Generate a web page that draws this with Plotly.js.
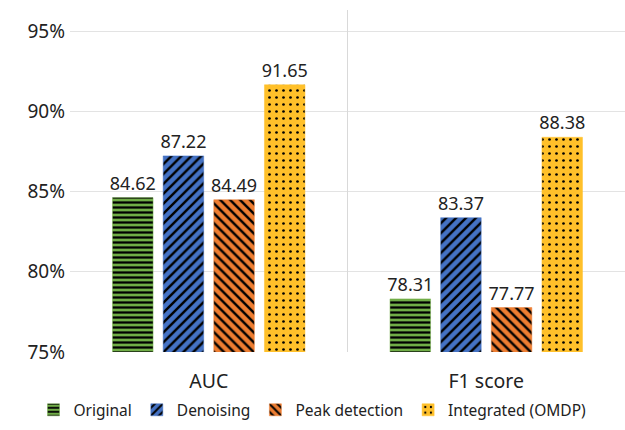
<!DOCTYPE html>
<html>
<head>
<meta charset="utf-8">
<script src="https://cdn.plot.ly/plotly-3.0.1.min.js"></script>
<style>
  html, body { margin: 0; padding: 0; background: #fff; }
  #chart { width: 625px; height: 430px; }
</style>
</head>
<body>
<div id="chart"></div>
<script>
// Metrics compared across preprocessing variants
const metrics = ['AUC', 'F1 score'];
const original = [84.62, 78.31];
const denoising = [87.22, 83.37];
const peakDetection = [84.49, 77.77];
const integrated = [91.65, 88.38];

const seriesNames = ['Original', 'Denoising', 'Peak detection', 'Integrated (OMDP)'];
const seriesValues = [original, denoising, peakDetection, integrated];
const fills = ['#70AD47', '#4472C4', '#ED7D31', '#FFC02A'];
const patterns = ['-', '/', '\\', '.'];
const patternSizes = [5, 7, 7, 7];
const patternSolidity = [0.45, 0.35, 0.35, 0.12];

const traces = seriesNames.map((name, i) => ({
  type: 'bar',
  name: name,
  x: metrics,
  y: seriesValues[i],
  text: seriesValues[i].map(v => v.toFixed(2)),
  textposition: 'outside',
  constraintext: 'none',
  cliponaxis: false,
  textfont: { size: 18, color: '#222' },
  marker: {
    color: fills[i],
    line: { color: fills[i], width: 0.5 },
    pattern: {
      shape: patterns[i],
      fgcolor: '#000',
      bgcolor: fills[i],
      fillmode: 'replace',
      size: patternSizes[i],
      solidity: patternSolidity[i]
    }
  }
}));

const layout = {
  width: 625,
  height: 430,
  margin: { l: 70, r: 0, t: 10, b: 78 },
  paper_bgcolor: '#fff',
  plot_bgcolor: '#fff',
  font: { family: 'Noto Sans, Open Sans, sans-serif', size: 18, color: '#222' },
  barmode: 'group',
  bargap: 0.27,
  bargroupgap: 0.2,
  showlegend: true,
  legend: {
    orientation: 'h',
    xref: 'container',
    yref: 'container',
    x: 0.5,
    xanchor: 'center',
    y: 0.046,
    yanchor: 'middle',
    font: { size: 15.5, color: '#222' },
    itemwidth: 30,
    tracegroupgap: 0
  },
  xaxis: {
    showgrid: false,
    showline: false,
    ticks: '',
    ticklabelstandoff: 15,
    tickfont: { size: 19.5, color: '#222' }
  },
  yaxis: {
    range: [75, 96.31],
    dtick: 5,
    tick0: 75,
    ticksuffix: '%',
    showgrid: true,
    gridcolor: '#e3e3e3',
    gridwidth: 1,
    zeroline: false,
    showline: false,
    ticklabelstandoff: 4,
    tickfont: { size: 19, color: '#222' }
  },
  shapes: [{
    type: 'line',
    xref: 'x',
    yref: 'paper',
    x0: 0.5, x1: 0.5,
    y0: 0, y1: 1,
    line: { color: '#d9d9d9', width: 1 }
  }]
};

Plotly.newPlot('chart', traces, layout, { displayModeBar: false, staticPlot: true });
</script>
</body>
</html>
